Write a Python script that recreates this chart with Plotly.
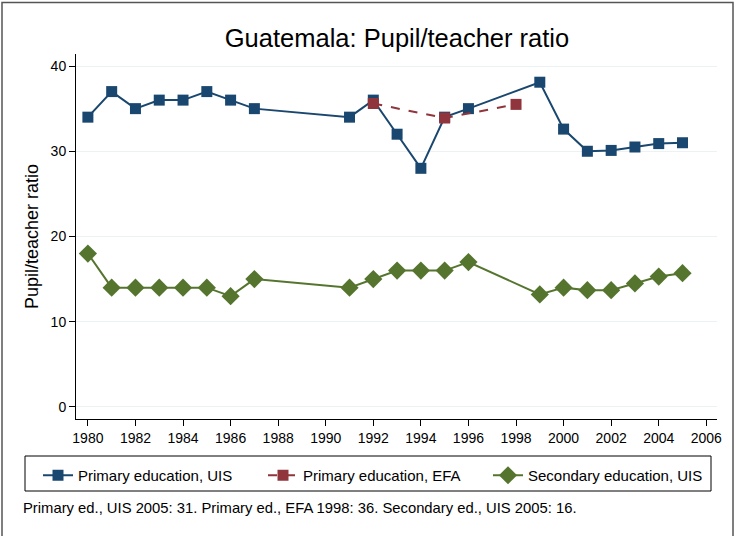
import plotly.graph_objects as go

# Datos
years_uis = [1980, 1981, 1982, 1983, 1984, 1985, 1986, 1987, 1991, 1992, 1993,
             1994, 1995, 1996, 1999, 2000, 2001, 2002, 2003, 2004, 2005]
primary_uis = [34, 37, 35, 36, 36, 37, 36, 35, 34, 36, 32,
               28, 34, 35, 38.1, 32.6, 30, 30.1, 30.5, 30.9, 31]

years_efa = [1992, 1995, 1998]
primary_efa = [35.6, 33.9, 35.5]

years_sec = years_uis
secondary_uis = [18, 14, 14, 14, 14, 14, 13, 15, 14, 15, 16,
                 16, 16, 17, 13.2, 14, 13.7, 13.7, 14.5, 15.3, 15.7]

x_ticks = list(range(1980, 2007, 2))
y_ticks = [0, 10, 20, 30, 40]

NAVY = '#1a476f'
MAROON = '#90353b'
GREEN = '#55752f'
FONT = 'Liberation Sans, Arial, sans-serif'

# geometria del area de trazado (px)
L, R, T, B = 76, 717, 54, 419
W, H = R - L, B - T


def px(xp):
    return (xp - L) / W


def py(yp):
    return (B - yp) / H


fig = go.Figure()

fig.add_trace(go.Scatter(
    x=years_uis, y=primary_uis, mode='lines+markers',
    name='Primary education, UIS',
    line=dict(color=NAVY, width=2),
    marker=dict(symbol='square', size=11, color=NAVY),
))
fig.add_trace(go.Scatter(
    x=years_efa, y=primary_efa, mode='lines+markers',
    name='Primary education, EFA',
    line=dict(color=MAROON, width=2, dash='dash'),
    marker=dict(symbol='square', size=11, color=MAROON),
))
fig.add_trace(go.Scatter(
    x=years_sec, y=secondary_uis, mode='lines+markers',
    name='Secondary education, UIS',
    line=dict(color=GREEN, width=2),
    marker=dict(symbol='diamond', size=14, color=GREEN),
))

fig.update_xaxes(
    range=[1979.5, 2006.45],
    tickvals=x_ticks,
    ticks='outside', ticklen=6, tickcolor='black',
    showline=True, linecolor='black', linewidth=1,
    showgrid=False, zeroline=False,
    tickfont=dict(size=14, color='black', family=FONT),
)
fig.update_yaxes(
    range=[-1.41, 41.41],
    tickvals=y_ticks,
    ticks='outside', ticklen=6, tickcolor='black',
    showline=True, linecolor='black', linewidth=1,
    showgrid=True, gridcolor='#eaf2f3', gridwidth=1, zeroline=False,
    tickfont=dict(size=14, color='black', family=FONT),
)

fig.update_layout(
    width=736, height=536,
    paper_bgcolor='white', plot_bgcolor='white',
    margin=dict(l=L, r=736 - R, t=T, b=536 - B, autoexpand=False),
    font=dict(family=FONT, color='black'),
    title=dict(text='Guatemala: Pupil/teacher ratio', xref='container', x=397 / 736,
               xanchor='center', yref='container', y=1 - 38 / 536, yanchor='middle',
               font=dict(size=25.5, color='black', family=FONT)),
    showlegend=True,
    legend=dict(
        orientation='h', x=px(38), xanchor='left', y=py(459), yanchor='top',
        font=dict(size=15, color='black', family=FONT),
        entrywidth=180, bgcolor='rgba(0,0,0,0)',
    ),
    shapes=[
        # caja de la leyenda
        dict(type='rect', xref='paper', yref='paper',
             x0=px(25), x1=px(711), y0=py(491), y1=py(456),
             line=dict(color='black', width=1)),
        # marco exterior
        dict(type='rect', xref='paper', yref='paper',
             x0=px(2), x1=px(733), y0=py(545), y1=py(2.5),
             line=dict(color='#555555', width=1.5)),
    ],
    annotations=[
        dict(text='Pupil/teacher ratio', textangle=-90,
             xref='paper', yref='paper', x=px(32), xanchor='center',
             y=py(237), yanchor='middle', showarrow=False,
             font=dict(size=18, color='black', family=FONT)),
        dict(text='Primary ed., UIS 2005: 31. Primary ed., EFA 1998: 36. Secondary ed., UIS 2005: 16.',
             xref='paper', yref='paper', x=px(21), xanchor='left',
             y=py(508), yanchor='middle', showarrow=False,
             font=dict(size=14.8, color='black', family=FONT)),
    ],
)

# quitar el margen por defecto del <body> para que la figura empiece en (0, 0)
fig.write_html("out.html", config={'displayModeBar': False},
               post_script="document.body.style.margin='0';")
